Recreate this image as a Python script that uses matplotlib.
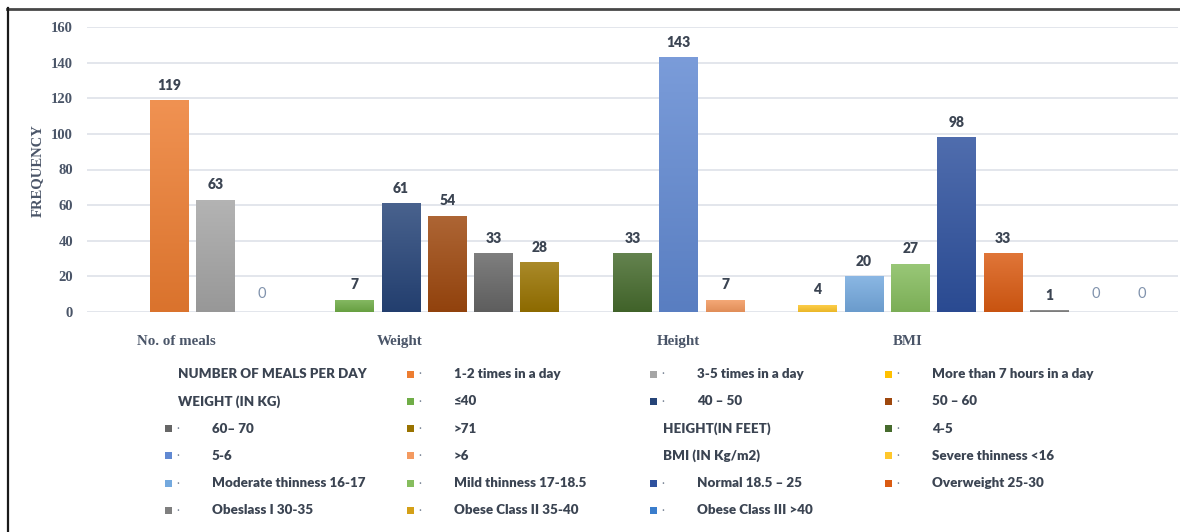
import matplotlib
matplotlib.use("Agg")
import matplotlib.pyplot as plt
import numpy as np
from matplotlib.colors import LinearSegmentedColormap, to_rgb
from matplotlib.patches import Rectangle
from matplotlib.lines import Line2D

# ---- data -------------------------------------------------------------
categories = ["No. of meals", "Weight", "Height", "BMI"]
headers = ["NUMBER OF MEALS PER DAY", "WEIGHT (IN KG)", "HEIGHT(IN FEET)", "BMI (IN Kg/m2)"]

meals_labels = ["1-2 times in a day", "3-5 times in a day", "More than 7 hours in a day"]
meals_values = [119, 63, 0]

weight_labels = ["\u226440", "40 \u2013 50", "50 \u2013 60", "60\u2013 70", ">71"]
weight_values = [7, 61, 54, 33, 28]

height_labels = ["4-5", "5-6", ">6"]
height_values = [33, 143, 7]

bmi_labels = ["Severe thinness <16", "Moderate thinness 16-17", "Mild thinness 17-18.5",
              "Normal 18.5 \u2013 25", "Overweight 25-30", "Obeslass I 30-35",
              "Obese Class II 35-40", "Obese Class III >40"]
bmi_values = [4, 20, 27, 98, 33, 1, 0, 0]

y_ticks = [0, 20, 40, 60, 80, 100, 120, 140, 160]

# ---- style ------------------------------------------------------------
meals_colors = ["#ED7D31", "#A5A5A5", "#FFC000"]
weight_colors = ["#70AD47", "#264478", "#9E480E", "#666666", "#997300"]
height_colors = ["#466B2D", "#6189D2", "#F49A60"]
bmi_colors = ["#FFC72C", "#74A9DE", "#86BD5E", "#2E519E", "#DA5B12", "#7F7F7F", "#D4A017", "#3A7DCC"]

TEXT_DARK = "#3b4452"
AXIS_TXT = "#4a5568"
GRID = "#e3e6ec"

groups = [
    (meals_labels, meals_values, meals_colors),
    (weight_labels, weight_values, weight_colors),
    (height_labels, height_values, height_colors),
    (bmi_labels, bmi_values, bmi_colors),
]
# where each category caption sits, counted in bar slots from the group's first bar
caption_offsets = [0.16, 0.97, 1.0, 1.95]

W, H = 1180, 532
fig = plt.figure(figsize=(W / 100, H / 100), dpi=100)
fig.patch.set_facecolor("white")

ax_left, ax_right, ax_bottom, ax_top = 87, 1178, 312, 27
ax = fig.add_axes([ax_left / W, 1 - ax_bottom / H, (ax_right - ax_left) / W, (ax_bottom - ax_top) / H])
ax.set_facecolor("white")


def blend(c, other, t):
    c = np.array(to_rgb(c))
    o = np.array(to_rgb(other))
    return tuple(c * (1 - t) + o * t)


bar_w = 0.84
grad = np.linspace(0, 1, 64).reshape(-1, 1)
slot = 0
group_starts = []
for labels, values, colors in groups:
    group_starts.append(slot)
    for lab, val, col in zip(labels, values, colors):
        x = slot
        bars = ax.bar(x, val, width=bar_w, color=col, zorder=3, linewidth=0)
        if val > 0:
            cmap = LinearSegmentedColormap.from_list(
                "g", [blend(col, "black", 0.08), blend(col, "white", 0.16)])
            im = ax.imshow(grad, extent=(x - bar_w / 2, x + bar_w / 2, 0, val), origin="lower",
                           cmap=cmap, aspect="auto", zorder=3.5, interpolation="bilinear")
            im.set_clip_path(bars.patches[0])
        if val == 0:
            ax.annotate(str(val), xy=(x, val), xytext=(0, 10), textcoords="offset points",
                        ha="center", va="baseline", fontsize=10.5, fontfamily="Lato",
                        color="#8193ad", zorder=5)
        else:
            ax.annotate(str(val), xy=(x, val), xytext=(0, 7.5), textcoords="offset points",
                        ha="center", va="baseline", fontsize=10, fontweight="heavy",
                        fontfamily="Lato", color=TEXT_DARK, zorder=5)
        slot += 1
    slot += 1  # gap between groups

last_slot = slot - 2
ax.set_xlim(-1.78, last_slot + 0.78)
ax.set_ylim(0, 160)
ax.set_yticks(y_ticks)
ax.set_xticks([])
ax.yaxis.grid(True, color=GRID, linewidth=1.4, zorder=0)
ax.set_axisbelow(True)
for s in ax.spines.values():
    s.set_visible(False)
ax.tick_params(axis="y", length=0, pad=10)
for t in ax.get_yticklabels():
    t.set_fontfamily("Liberation Serif")
    t.set_fontweight("bold")
    t.set_fontsize(10.5)
    t.set_color(AXIS_TXT)

for name, start, off in zip(categories, group_starts, caption_offsets):
    ax.annotate(name, xy=(start + off, 0), xycoords=("data", "axes fraction"),
                xytext=(0, -21.5), textcoords="offset points", ha="center", va="center",
                fontfamily="Liberation Serif", fontweight="bold", fontsize=10.8, color=AXIS_TXT)

fig.text(37 / W, 1 - 171 / H, "FREQUENCY", rotation=90, ha="center", va="center",
         fontfamily="Liberation Serif", fontweight="bold", fontsize=10.5, color=AXIS_TXT)

# ---- legend grid (4 columns, section headers without swatches) ----------
entries = []
for head, (labels, values, colors) in zip(headers, groups):
    entries.append((head, None))
    for lab, col in zip(labels, colors):
        entries.append((lab, col))

col_x = [165, 407, 650, 885]
row_y0, row_dy = 374, 27.3
sw = 7
for i, (text, col) in enumerate(entries):
    r, c = divmod(i, 4)
    mx = col_x[c]
    my = row_y0 + r * row_dy
    if col is None:
        fig.text((mx + 13) / W, 1 - my / H, text, ha="left", va="center",
                 fontfamily="Lato", fontweight="heavy", fontsize=9.6, color=TEXT_DARK)
    else:
        fig.patches.append(Rectangle(((mx) / W, 1 - (my + sw / 2) / H), sw / W, sw / H,
                                     transform=fig.transFigure, facecolor=col, edgecolor="none"))
        fig.text((mx + 13) / W, 1 - my / H, "\u00b7", ha="center", va="center",
                 fontfamily="Lato", fontsize=8, color="#7a8596")
        fig.text((mx + 47) / W, 1 - my / H, text, ha="left", va="center",
                 fontfamily="Lato", fontweight="heavy", fontsize=9.6, color=TEXT_DARK)

# frame lines along the top and left edges
fig.add_artist(Line2D([7 / W, 1.0], [1 - 8.5 / H, 1 - 8.5 / H], transform=fig.transFigure,
                      color="#474747", linewidth=2))
fig.add_artist(Line2D([7.5 / W, 7.5 / W], [0, 1 - 7.5 / H], transform=fig.transFigure,
                      color="#1a1a1a", linewidth=1.6))

fig.savefig("out.png", dpi=100, facecolor="white")
